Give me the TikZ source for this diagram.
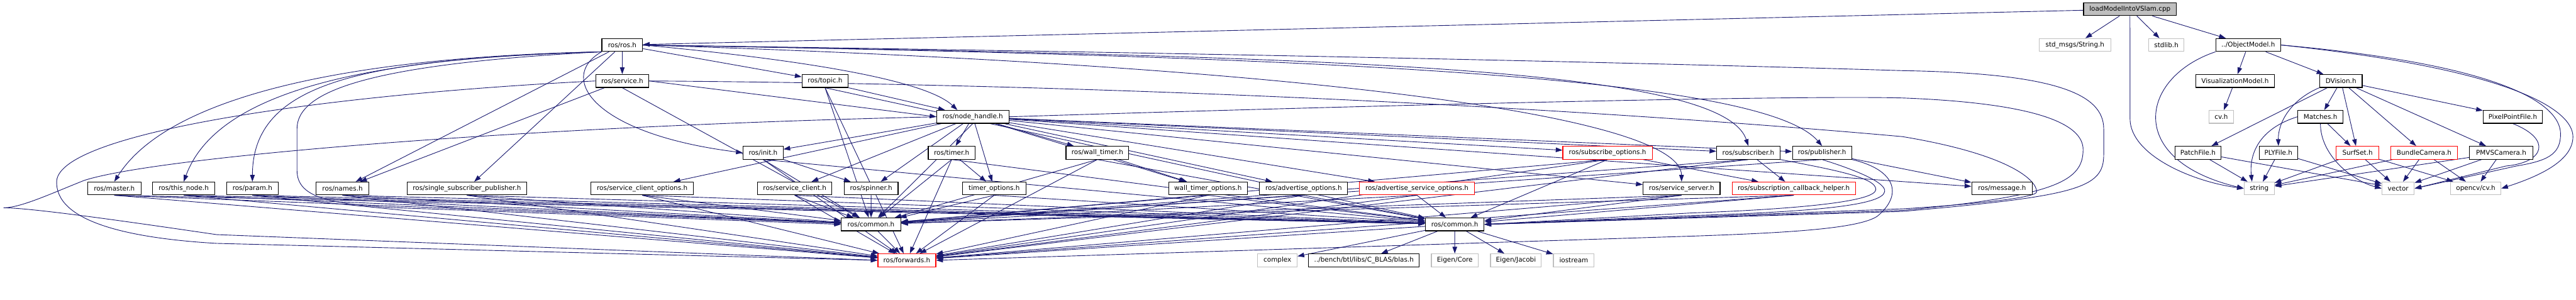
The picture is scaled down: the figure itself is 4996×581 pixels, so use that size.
\documentclass[tikz,border=0pt]{standalone}
\usepackage{fontspec}
\setmainfont{DejaVu Sans}
\usetikzlibrary{arrows.meta}
\pgfdeclarelayer{edges}
\pgfsetlayers{edges,main}
\definecolor{depblue}{HTML}{191970}
\definecolor{extgray}{HTML}{BFBFBF}

\begin{document}
\begin{tikzpicture}[x=1pt, y=-1pt, >={Triangle[length=13pt,width=9pt]},
  file/.style={draw=black, line width=1.4pt, fill=white, minimum height=25pt,
    inner xsep=2pt, inner ysep=0pt, font=\fontsize{12.7}{14}\selectfont},
  redfile/.style={file, draw=red},
  extfile/.style={file, draw=extgray},
  mainfile/.style={file, fill=extgray},
  dep/.style={->, draw=depblue, line width=1.1pt}]
\useasboundingbox (0,0) rectangle (4996,581);
\node[mainfile, minimum width=180] (main) at (4130.9,17.8) {loadModelIntoVSlam.cpp};
\node[file, minimum width=79] (ros) at (1206.8,87.3) {ros/ros.h};
\node[extfile, minimum width=139] (stringmsg) at (4024.2,87.3) {std\_msgs/String.h};
\node[extfile, minimum width=68.4] (stdlib) at (4201.5,87.3) {stdlib.h};
\node[file, minimum width=125.7] (objmodel) at (4360.2,87.3) {../ObjectModel.h};
\node[file, minimum width=103] (service) at (1206.8,157) {ros/service.h};
\node[file, minimum width=89.7] (topic) at (1600.2,157) {ros/topic.h};
\node[file, minimum width=152] (vismodel) at (4334.7,157) {VisualizationModel.h};
\node[file, minimum width=82.6] (dvision) at (4540,157) {DVision.h};
\node[file, minimum width=140] (nodehandle) at (1886.7,226.5) {ros/node\_handle.h};
\node[extfile, minimum width=46.6] (cvh) at (4308,226.5) {cv.h};
\node[file, minimum width=88] (matches) at (4500.3,226.5) {Matches.h};
\node[file, minimum width=114.7] (pixelpoint) at (4873.3,226.5) {PixelPointFile.h};
\node[file, minimum width=77.4] (init) at (1480,296.2) {ros/init.h};
\node[file, minimum width=90.7] (timer) at (1845.7,296.2) {ros/timer.h};
\node[file, minimum width=121.7] (walltimer) at (2128.2,296.2) {ros/wall\_timer.h};
\node[redfile, minimum width=173.3] (subopts) at (3117.7,296.2) {ros/subscribe\_options.h};
\node[file, minimum width=123] (subscriber) at (3390.8,296.2) {ros/subscriber.h};
\node[file, minimum width=114.7] (publisher) at (3533.7,296.2) {ros/publisher.h};
\node[file, minimum width=89.7] (patchfile) at (4262.8,296.2) {PatchFile.h};
\node[file, minimum width=75] (plyfile) at (4418.8,296.2) {PLYFile.h};
\node[redfile, minimum width=83] (surfset) at (4572.2,296.2) {SurfSet.h};
\node[redfile, minimum width=130] (bundlecam) at (4701.3,296.2) {BundleCamera.h};
\node[file, minimum width=123] (pmvscam) at (4850.8,296.2) {PMVSCamera.h};
\node[file, minimum width=103.3] (master) at (221.7,365.5) {ros/master.h};
\node[file, minimum width=120.7] (thisnode) at (356.3,365.5) {ros/this\_node.h};
\node[file, minimum width=100.4] (param) at (489.5,365.5) {ros/param.h};
\node[file, minimum width=103] (names) at (664.2,365.5) {ros/names.h};
\node[file, minimum width=232.4] (singlepub) at (905.5,365.5) {ros/single\_subscriber\_publisher.h};
\node[file, minimum width=199] (srvclientopts) at (1245.5,365.5) {ros/service\_client\_options.h};
\node[file, minimum width=144] (srvclient) at (1541.3,365.5) {ros/service\_client.h};
\node[file, minimum width=104.4] (spinner) at (1689.5,365.5) {ros/spinner.h};
\node[file, minimum width=123] (timeropts) at (1928.2,365.5) {timer\_options.h};
\node[file, minimum width=152.3] (walltimeropts) at (2342.8,365.5) {wall\_timer\_options.h};
\node[file, minimum width=170.7] (advopts) at (2528.3,365.5) {ros/advertise\_options.h};
\node[redfile, minimum width=222.6] (advsrvopts) at (2748,365.5) {ros/advertise\_service\_options.h};
\node[file, minimum width=149.3] (srvserver) at (3261.3,365.5) {ros/service\_server.h};
\node[redfile, minimum width=239] (subcb) at (3478.8,365.5) {ros/subscription\_callback\_helper.h};
\node[file, minimum width=117.7] (message) at (3882.8,365.5) {ros/message.h};
\node[extfile, minimum width=58.4] (string) at (4381.5,365.5) {string};
\node[extfile, minimum width=62.6] (vector) at (4651,365.5) {vector};
\node[extfile, minimum width=97.6] (opencv) at (4801.5,365.5) {opencv/cv.h};
\node[file, minimum width=115.3] (commonA) at (1689.3,435.2) {ros/common.h};
\node[file, minimum width=114] (commonB) at (2821.3,435.2) {ros/common.h};
\node[redfile, minimum width=112.3] (forwards) at (1758.8,504.8) {ros/forwards.h};
\node[extfile, minimum width=76.4] (complex) at (2477.5,504.8) {complex};
\node[file, minimum width=214.7] (blas) at (2645.3,504.8) {../bench/btl/libs/C\_BLAS/blas.h};
\node[extfile, minimum width=91] (eigencore) at (2821.5,504.8) {Eigen/Core};
\node[extfile, minimum width=98.6] (eigenjacobi) at (2940,504.8) {Eigen/Jacobi};
\node[extfile, minimum width=79] (iostream) at (3052.2,504.8) {iostream};
\begin{pgfonlayer}{edges}
\fill[white] (0,0) rectangle (4996,581);
\foreach \a/\b in {main/stringmsg, main/stdlib, main/objmodel, main/ros,
  objmodel/vismodel, objmodel/dvision, vismodel/cvh,
  dvision/patchfile, dvision/matches, dvision/surfset, dvision/bundlecam,
  dvision/pmvscam, dvision/pixelpoint, matches/surfset,
  patchfile/string, patchfile/vector, plyfile/string, plyfile/vector,
  surfset/string, surfset/vector, surfset/opencv,
  bundlecam/string, bundlecam/vector, bundlecam/opencv,
  pmvscam/string, pmvscam/vector, pmvscam/opencv,
  ros/service, ros/topic, ros/names, ros/singlepub, service/names,
  nodehandle/timer, nodehandle/timeropts, nodehandle/spinner, nodehandle/init,
  nodehandle/srvclient, nodehandle/srvclientopts, nodehandle/walltimer,
  nodehandle/walltimeropts, nodehandle/advopts, nodehandle/advsrvopts,
  nodehandle/subopts, nodehandle/subscriber, nodehandle/publisher,
  nodehandle/srvserver, nodehandle/message, init/spinner, timer/timeropts,
  walltimer/walltimeropts, subopts/subcb, subscriber/subcb, publisher/message,
  commonA/forwards, commonB/complex, commonB/blas, commonB/eigencore,
  commonB/eigenjacobi, commonB/iostream, commonB/forwards}
  \draw[dep] (\a) -- (\b);
\foreach \n in {master, thisnode, param, names, singlepub, srvclientopts,
  srvclient, spinner, timeropts, walltimeropts, advopts, advsrvopts, srvserver,
  subcb, init, timer, walltimer, subopts, topic, nodehandle, subscriber,
  publisher, service}
  \draw[dep] (\n.south) -- (commonA);
\foreach \n in {master, thisnode, param, names, singlepub, srvclientopts,
  srvclient, timeropts, walltimeropts, advopts, advsrvopts, srvserver, subcb,
  init, timer, walltimer, subopts, topic}
  \draw[dep] (\n.south) -- (commonB);
\foreach \n in {master, thisnode, param, names, singlepub, srvclientopts,
  srvclient, timeropts, walltimeropts, advopts, advsrvopts, srvserver, subcb,
  init, timer, walltimer, subopts, topic, subscriber}
  \draw[dep] (\n.south) -- (forwards);
\draw[dep] (main.south) -- (4131,230) .. controls (4131,300) and (4250,352) .. (string.west);
\draw[dep] (objmodel.south west) .. controls (4150,150) and (4120,310) .. (string.west);
\draw[dep] (objmodel.east) .. controls (4850,125) and (4966,200) .. (4966,260)
  .. controls (4966,300) and (4940,312) .. (4880,322) -- (vector.east);
\draw[dep] (objmodel.east) .. controls (4880,135) and (4990,215) .. (4990,265)
  .. controls (4990,310) and (4930,340) .. (opencv.east);
\draw[dep] (matches.west) .. controls (4380,250) and (4362,300) .. ([xshift=-14]string.north);
\draw[dep] (matches.south) .. controls (4500,300) and (4560,350) .. (vector.west);
\draw[dep] (pixelpoint.south) .. controls (4950,270) and (4935,315) .. (4860,322) -- (vector.east);
\draw[dep] (dvision.south west) .. controls (4440,195) and (4418,240) .. (plyfile.north);
\draw[dep] (ros.south west) .. controls (700,110) and (330,180) .. (master.north);
\draw[dep] (ros.south west) .. controls (700,112) and (420,180) .. (thisnode.north);
\draw[dep] (ros.south west) .. controls (700,115) and (490,160) .. (param.north);
\draw[dep] (ros.south west) .. controls (700,125) and (576,180) .. (576,250) -- (576,330)
  .. controls (576,385) and (640,400) .. (830,405) -- (commonA.west);
\draw[dep] (ros.south west) .. controls (1080,150) and (1150,260) .. (init.west);
\draw[dep] (ros.east) .. controls (1600,120) and (1800,160) .. ([xshift=-30]nodehandle.north);
\draw[dep] (topic.south east) -- ([xshift=-54]nodehandle.north);
\draw[dep] (service.east) -- (nodehandle.west);
\draw[dep] (ros.east) .. controls (2600,130) and (3260,230) .. (srvserver.north);
\draw[dep] (ros.east) .. controls (2600,110) and (3340,130) .. (subscriber.north);
\draw[dep] (ros.east) .. controls (2600,110) and (3420,150) .. (publisher.north);
\draw[dep] (service.west) .. controls (600,185) and (120,260) .. (110,350)
  .. controls (105,430) and (250,462) .. (420,472) -- (forwards.west);
\draw[dep] (nodehandle.west) .. controls (1000,245) and (300,305) .. (163,350)
  .. controls (100,375) and (40,403) .. (7,403)
  .. controls (60,403) and (250,430) .. (420,455) -- (forwards.west);
\draw[dep] (ros.east) .. controls (2500,105) and (3300,125) .. (3690,137)
  .. controls (3980,142) and (4080,180) .. (4080,250) -- (4080,300)
  .. controls (4080,365) and (4030,380) .. (3690,410) -- (commonB.east);
\draw[dep] (nodehandle.east) .. controls (2800,200) and (3500,185) .. (3690,190)
  .. controls (3950,200) and (4040,240) .. (4040,290)
  .. controls (4040,350) and (3990,380) .. (3690,408) -- (commonB.east);
\draw[dep] (service.east) .. controls (2400,165) and (3300,230) .. (3690,265)
  .. controls (3900,300) and (3950,350) .. (3950,372)
  .. controls (3950,385) and (3800,398) .. (3690,405) -- (commonB.east);
\draw[dep] (subscriber.south east) .. controls (3560,330) and (3640,345) .. (3638,368)
  .. controls (3636,390) and (3500,405) .. (3280,413) -- (commonB.east);
\draw[dep] (publisher.south) .. controls (3600,330) and (3660,355) .. (3655,372)
  .. controls (3650,395) and (3550,410) .. (3280,418) -- (commonB.east);
\draw[dep] (publisher.south east) .. controls (3680,330) and (3690,380) .. (3640,420)
  .. controls (3600,445) and (3450,452) .. (3280,458) -- (forwards.east);
\end{pgfonlayer}
\end{tikzpicture}
\end{document}
